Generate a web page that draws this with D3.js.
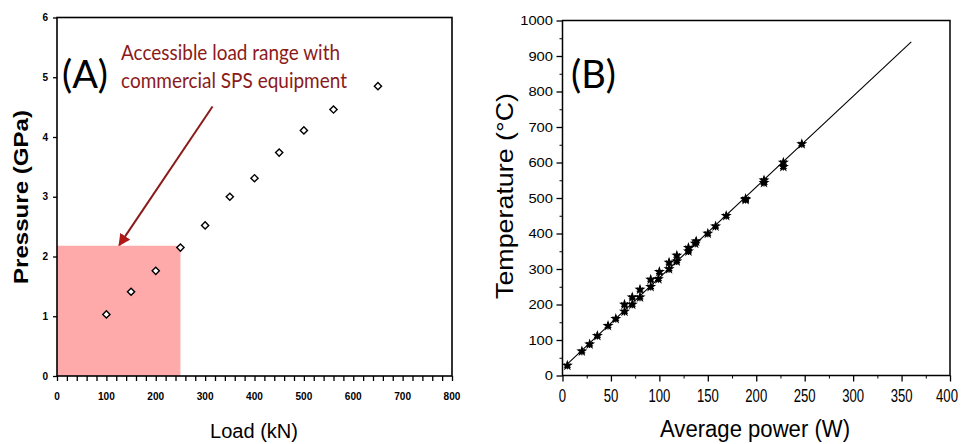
<!DOCTYPE html>
<html>
<head>
<meta charset="utf-8">
<script src="https://cdn.jsdelivr.net/npm/d3@7"></script>
<style>
  body { margin: 0; background: #fff; }
  svg { display: block; font-family: Arial, "Liberation Sans", sans-serif; }
</style>
</head>
<body>
<svg id="chart" width="961" height="444"></svg>
<script>
// Panel A data: load vs pressure
const loadKN = [100, 150, 200, 250, 300, 350, 400, 450, 500, 560, 650];
const pressureGPa = [1.03, 1.41, 1.76, 2.15, 2.52, 3.0, 3.31, 3.74, 4.11, 4.46, 4.85];
const loadTicks = [0, 100, 200, 300, 400, 500, 600, 700, 800];
const pressureTicks = [0, 1, 2, 3, 4, 5, 6];
// accessible range box (load max, pressure max) and arrow (from, to)
const accessibleLoad = 250;
const accessiblePressure = 2.18;
const arrowFrom = [315, 4.51];
const arrowTo = [126, 2.19];

// Panel B data: average power vs temperature
const powerW = [5, 20, 28, 36, 47, 55, 64, 64, 72, 72, 80, 80, 91, 91, 99, 100, 110, 110, 118, 118,
  130, 130, 137, 138, 150, 158, 169, 189, 189, 208, 208, 228, 228, 247];
const tempC = [28, 68, 88, 112, 140, 160, 180, 200, 200, 220, 220, 242, 250, 270, 272, 292, 300, 318, 322, 338,
  350, 360, 372, 378, 400, 420, 450, 495, 498, 550, 543, 600, 588, 652];
const fitPower = [4, 360];
const fitTemp = [30, 940];
const powerTicks = [0, 50, 100, 150, 200, 250, 300, 350, 400];
const tempTicks = [0, 100, 200, 300, 400, 500, 600, 700, 800, 900, 1000];

const svg = d3.select("#chart");
const darkRed = "#8b1a1a";

// ---------- Panel A ----------
const xA = d3.scaleLinear().domain([0, 800]).range([57, 452]);
const yA = d3.scaleLinear().domain([0, 6]).range([376, 17.5]);
const gA = svg.append("g");

gA.append("rect")
  .attr("x", xA(0)).attr("y", yA(accessiblePressure))
  .attr("width", xA(accessibleLoad) - xA(0))
  .attr("height", yA(0) - yA(accessiblePressure))
  .attr("fill", "#ffaaaa");

// frame
gA.append("rect")
  .attr("x", xA(0)).attr("y", yA(6))
  .attr("width", xA(800) - xA(0)).attr("height", yA(0) - yA(6))
  .attr("fill", "none").attr("stroke", "#000").attr("stroke-width", 1.6);

// x minor ticks
gA.append("g")
  .attr("transform", `translate(0,${yA(0)})`)
  .call(d3.axisBottom(xA).tickValues(d3.range(0, 801, 20)).tickSize(5).tickFormat(""))
  .call(g => g.select(".domain").remove())
  .call(g => g.selectAll("line").attr("stroke-width", 1.3));

gA.append("g").selectAll("text")
  .data(loadTicks).join("text")
  .attr("x", d => xA(d)).attr("y", 400)
  .attr("text-anchor", "middle")
  .attr("font-size", 11).attr("font-weight", "bold")
  .attr("textLength", d => String(d).length * 5.6)
  .attr("lengthAdjust", "spacingAndGlyphs")
  .text(d => d);

gA.append("g")
  .attr("transform", `translate(${xA(0)},0)`)
  .call(d3.axisLeft(yA).tickValues(pressureTicks).tickSize(4).tickFormat(""))
  .call(g => g.select(".domain").remove())
  .call(g => g.selectAll("line").attr("stroke-width", 1.3));

gA.append("g").selectAll("text")
  .data(pressureTicks).join("text")
  .attr("x", 48).attr("y", d => yA(d) + 3.5)
  .attr("text-anchor", "end")
  .attr("font-size", 10).attr("font-weight", "bold")
  .text(d => d);

// points
gA.append("g").selectAll("path")
  .data(loadKN).join("path")
  .attr("transform", (d, i) => `translate(${xA(d)},${yA(pressureGPa[i])}) rotate(45)`)
  .attr("d", d3.symbol(d3.symbolSquare, 26))
  .attr("fill", "#fff").attr("stroke", "#000").attr("stroke-width", 1.4);

// arrow
svg.append("defs").append("marker")
  .attr("id", "arrowA")
  .attr("viewBox", "0 -5 10 10")
  .attr("refX", 9).attr("refY", 0)
  .attr("markerWidth", 6).attr("markerHeight", 6)
  .attr("markerUnits", "strokeWidth")
  .attr("orient", "auto")
  .append("path")
  .attr("d", "M0,-5L10,0L0,5Z")
  .attr("fill", "#b01818");

gA.append("line")
  .attr("x1", xA(arrowFrom[0])).attr("y1", yA(arrowFrom[1]))
  .attr("x2", xA(arrowTo[0])).attr("y2", yA(arrowTo[1]))
  .attr("stroke", darkRed).attr("stroke-width", 2)
  .attr("marker-end", "url(#arrowA)");

gA.append("text")
  .attr("x", 62).attr("y", 88)
  .attr("font-family", "Lato, 'Open Sans', sans-serif")
  .attr("font-size", 38)
  .text("(A)");

gA.append("text")
  .attr("fill", darkRed)
  .attr("font-family", "Lato, 'Open Sans', sans-serif")
  .attr("font-size", 21)
  .selectAll("tspan")
  .data([["Accessible load range with", 60, 219], ["commercial SPS equipment", 88, 226]])
  .join("tspan")
  .attr("x", 121).attr("y", d => d[1])
  .attr("textLength", d => d[2]).attr("lengthAdjust", "spacingAndGlyphs")
  .text(d => d[0]);

gA.append("text")
  .attr("x", 254).attr("y", 438)
  .attr("text-anchor", "middle")
  .attr("font-size", 20)
  .attr("textLength", 88).attr("lengthAdjust", "spacingAndGlyphs")
  .text("Load (kN)");

gA.append("text")
  .attr("transform", "translate(28,197) rotate(-90)")
  .attr("text-anchor", "middle")
  .attr("font-size", 20).attr("font-weight", "bold")
  .attr("textLength", 174).attr("lengthAdjust", "spacingAndGlyphs")
  .text("Pressure (GPa)");

// ---------- Panel B ----------
const xB = d3.scaleLinear().domain([0, 400]).range([562.5, 950]);
const yB = d3.scaleLinear().domain([0, 1000]).range([375.5, 20.5]);
const gB = svg.append("g");

gB.append("rect")
  .attr("x", xB(0)).attr("y", yB(1000))
  .attr("width", xB(400) - xB(0)).attr("height", yB(0) - yB(1000))
  .attr("fill", "none").attr("stroke", "#000").attr("stroke-width", 1.5);

gB.append("g")
  .attr("transform", `translate(0,${yB(0)})`)
  .call(d3.axisBottom(xB).tickValues(d3.range(25, 400, 50)).tickSize(3).tickFormat(""))
  .call(g => g.select(".domain").remove());
gB.append("g")
  .attr("transform", `translate(0,${yB(0)})`)
  .call(d3.axisBottom(xB).tickValues(powerTicks).tickSize(6).tickFormat(""))
  .call(g => g.select(".domain").remove())
  .call(g => g.selectAll("line").attr("stroke-width", 1.3));

// narrow, tall tick labels; keep the last one inside the window
gB.append("g").selectAll("text")
  .data(powerTicks).join("text")
  .attr("transform", d => `translate(${Math.min(xB(d), 947)},402) scale(0.82,1.1)`)
  .attr("text-anchor", "middle")
  .attr("font-size", 16)
  .text(d => d);

gB.append("g")
  .attr("transform", `translate(${xB(0)},0)`)
  .call(d3.axisLeft(yB).tickValues(d3.range(50, 1000, 100)).tickSize(3).tickFormat(""))
  .call(g => g.select(".domain").remove());
gB.append("g")
  .attr("transform", `translate(${xB(0)},0)`)
  .call(d3.axisLeft(yB).tickValues(tempTicks).tickSize(6).tickFormat(""))
  .call(g => g.select(".domain").remove())
  .call(g => g.selectAll("line").attr("stroke-width", 1.3));

gB.append("g").selectAll("text")
  .data(tempTicks).join("text")
  .attr("x", 553).attr("y", d => yB(d) + 4.5)
  .attr("text-anchor", "end")
  .attr("font-size", 13)
  .attr("textLength", d => String(d).length * 8.2)
  .attr("lengthAdjust", "spacingAndGlyphs")
  .text(d => d);

// fit line
gB.append("line")
  .attr("x1", xB(fitPower[0])).attr("y1", yB(fitTemp[0]))
  .attr("x2", xB(fitPower[1])).attr("y2", yB(fitTemp[1]))
  .attr("stroke", "#000").attr("stroke-width", 1.1);

// star markers
gB.append("g").selectAll("path")
  .data(powerW).join("path")
  .attr("transform", (d, i) => `translate(${xB(d)},${yB(tempC[i])})`)
  .attr("d", d3.symbol(d3.symbolStar, 38))
  .attr("fill", "#000");
gB.append("g").selectAll("path")
  .data(powerW).join("path")
  .attr("transform", (d, i) => `translate(${xB(d)},${yB(tempC[i])})`)
  .attr("d", d3.symbol(d3.symbolAsterisk, 40))
  .attr("fill", "none").attr("stroke", "#000").attr("stroke-width", 1.2);

gB.append("text")
  .attr("x", 571).attr("y", 88)
  .attr("font-family", "Lato, 'Open Sans', sans-serif")
  .attr("font-size", 38)
  .text("(B)");

gB.append("text")
  .attr("x", 755).attr("y", 437)
  .attr("text-anchor", "middle")
  .attr("font-size", 23)
  .attr("textLength", 190).attr("lengthAdjust", "spacingAndGlyphs")
  .text("Average power (W)");

gB.append("text")
  .attr("transform", "translate(513,196) rotate(-90)")
  .attr("text-anchor", "middle")
  .attr("font-size", 24)
  .attr("textLength", 206).attr("lengthAdjust", "spacingAndGlyphs")
  .text("Temperature (°C)");
</script>
</body>
</html>
